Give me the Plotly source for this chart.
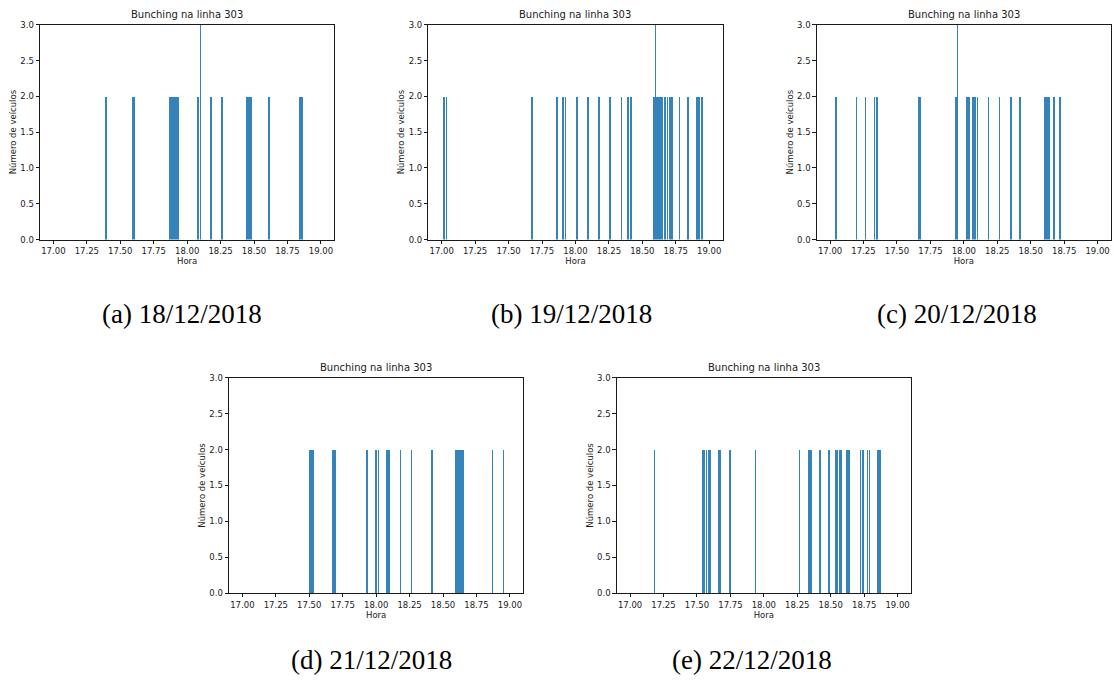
import plotly.graph_objects as go

# Bunching events on line 303, one histogram per day (hour of day -> vehicles together)
hora_18 = [17.392, 17.594, 17.600, 17.874, 17.886, 17.899, 17.916, 17.931, 18.081, 18.099,
           18.178, 18.261, 18.448, 18.458, 18.466, 18.478, 18.610, 18.616, 18.843, 18.858]
veic_18 = [2, 2, 2, 2, 2, 2, 2, 2, 2, 3,
           2, 2, 2, 2, 2, 2, 2, 2, 2, 2]

hora_19 = [17.020, 17.038, 17.675, 17.863, 17.911, 17.928, 18.016, 18.095, 18.181, 18.263,
           18.346, 18.395, 18.416, 18.586, 18.596, 18.601, 18.608, 18.620, 18.633, 18.650,
           18.670, 18.691, 18.710, 18.723, 18.781, 18.845, 18.913, 18.928, 18.946]
veic_19 = [2, 2, 2, 2, 2, 2, 2, 2, 2, 2,
           2, 2, 2, 2, 2, 3, 2, 2, 2, 2,
           2, 2, 2, 2, 2, 2, 2, 2, 2]

hora_20 = [17.042, 17.195, 17.262, 17.330, 17.347, 17.662, 17.669, 17.938, 17.950, 18.020,
           18.035, 18.068, 18.083, 18.100, 18.183, 18.265, 18.350, 18.418, 18.600, 18.613,
           18.625, 18.635, 18.673, 18.718]
veic_20 = [2, 2, 2, 2, 2, 2, 2, 2, 3, 2,
           2, 2, 2, 2, 2, 2, 2, 2, 2, 2,
           2, 2, 2, 2]

hora_21 = [17.508, 17.515, 17.528, 17.678, 17.695, 17.933, 18.000, 18.018, 18.083, 18.098,
           18.183, 18.265, 18.415, 18.598, 18.608, 18.615, 18.625, 18.635, 18.650, 18.870,
           18.953]
veic_21 = [2] * 21

hora_22 = [17.180, 17.545, 17.555, 17.570, 17.585, 17.597, 17.662, 17.672, 17.747, 17.935,
           18.265, 18.335, 18.350, 18.418, 18.485, 18.538, 18.548, 18.563, 18.573, 18.620,
           18.633, 18.720, 18.738, 18.773, 18.788, 18.853, 18.868]
veic_22 = [2] * 27

datas = ["(a) 18/12/2018", "(b) 19/12/2018", "(c) 20/12/2018",
         "(d) 21/12/2018", "(e) 22/12/2018"]
horas = [hora_18, hora_19, hora_20, hora_21, hora_22]
veiculos = [veic_18, veic_19, veic_20, veic_21, veic_22]

x_ticks = [17.0, 17.25, 17.5, 17.75, 18.0, 18.25, 18.5, 18.75, 19.0]
y_ticks = [0.0, 0.5, 1.0, 1.5, 2.0, 2.5, 3.0]

W, H = 1115, 690
# axes boxes in pixels: (left, right, top, bottom)
boxes = [(40, 334.3, 20, 238), (428.3, 722.6, 20, 238), (816.7, 1111, 20, 238),
         (229, 523.3, 378.3, 596.7), (616.7, 911, 378.3, 596.7)]
caption_pos = [(182, 314), (571, 314), (957, 314), (371, 665), (752, 665)]

BLUE = "#1f77b4"
TXT = "#1a1a1a"
fig = go.Figure()
layout = dict(
    width=W, height=H, margin=dict(l=0, r=0, t=0, b=0),
    paper_bgcolor="white", plot_bgcolor="white", showlegend=False,
    font=dict(family="DejaVu Sans", size=8.5, color=TXT),
    bargap=0,
)
annotations = []
for i, (hx, vy) in enumerate(zip(horas, veiculos)):
    n = "" if i == 0 else str(i + 1)
    left, right, top, bottom = boxes[i]
    fig.add_trace(go.Bar(x=hx, y=vy, width=0.0055,
                         marker=dict(color=BLUE, line=dict(width=0)), opacity=0.9,
                         xaxis="x" + n, yaxis="y" + n))
    layout["xaxis" + n] = dict(
        domain=[left / W, right / W], anchor="y" + n, range=[16.9, 19.1],
        tickvals=x_ticks, tickformat=".2f", ticks="outside", ticklen=3.5, tickwidth=0.8,
        tickcolor=TXT, showline=True, linecolor=TXT, linewidth=0.8, mirror=True,
        showgrid=False, zeroline=False, tickfont=dict(size=8.5, color=TXT),
        title=dict(text="Hora", font=dict(size=8.5, color=TXT), standoff=2),
    )
    layout["yaxis" + n] = dict(
        domain=[1 - bottom / H, 1 - top / H], anchor="x" + n, range=[0, 3],
        tickvals=y_ticks, tickformat=".1f", ticks="outside", ticklen=3.5, tickwidth=0.8,
        tickcolor=TXT, showline=True, linecolor=TXT, linewidth=0.8, mirror=True,
        showgrid=False, zeroline=False, tickfont=dict(size=8.5, color=TXT),
        title=dict(text="Número de veículos", font=dict(size=8.5, color=TXT), standoff=2),
    )
    annotations.append(dict(
        text="Bunching na linha 303", x=(left + right) / 2 / W, y=1 - (top - 10) / H,
        xref="paper", yref="paper", showarrow=False, xanchor="center", yanchor="middle",
        font=dict(size=10, color=TXT, family="DejaVu Sans")))
    cx, cy = caption_pos[i]
    annotations.append(dict(
        text=datas[i], x=cx / W, y=1 - cy / H, xref="paper", yref="paper",
        showarrow=False, xanchor="center", yanchor="middle",
        font=dict(size=27, color="black", family="Liberation Serif")))

layout["annotations"] = annotations
fig.update_layout(**layout)
fig.write_html("out.html")
